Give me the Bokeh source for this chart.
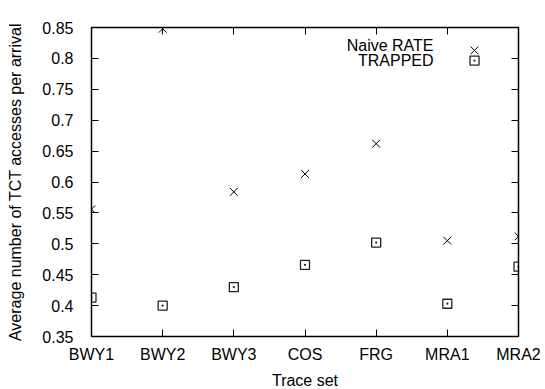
from bokeh.plotting import figure
from bokeh.models import LinearAxis, FixedTicker, Range1d, Label
from bokeh.embed import file_html
from bokeh.resources import INLINE

# ---- data ----
categories = ["BWY1", "BWY2", "BWY3", "COS", "FRG", "MRA1", "MRA2"]
naive_rate = [0.556, 0.848, 0.584, 0.613, 0.662, 0.505, 0.512]
trapped = [0.413, 0.400, 0.430, 0.466, 0.502, 0.403, 0.463]
y_ticks = [0.35, 0.4, 0.45, 0.5, 0.55, 0.6, 0.65, 0.7, 0.75, 0.8, 0.85]
y_tick_labels = ["0.35", "0.4", "0.45", "0.5", "0.55", "0.6", "0.65", "0.7", "0.75", "0.8", "0.85"]
series_names = ["Naive RATE", "TRAPPED"]

x_pos = list(range(len(categories)))
FONT = "Liberation Sans"
X_SIZE = 11
SQ_SIZE = 9

p = figure(frame_width=427, frame_height=309,
           x_range=Range1d(0, len(categories) - 1),
           y_range=Range1d(y_ticks[0], y_ticks[-1]),
           x_axis_type=None, y_axis_type=None,
           output_backend="svg", toolbar_location=None,
           min_border_left=91, min_border_right=27,
           min_border_top=27, min_border_bottom=53)
p.xgrid.visible = False
p.ygrid.visible = False
p.outline_line_color = "black"
p.outline_line_width = 1.5
p.background_fill_color = "white"
p.border_fill_color = "white"

xt = FixedTicker(ticks=x_pos)
yt = FixedTicker(ticks=y_ticks)

bottom_ax = LinearAxis(ticker=xt, axis_label="Trace set",
                       major_label_overrides={i: c for i, c in enumerate(categories)},
                       major_label_standoff=9, axis_label_standoff=6)
left_ax = LinearAxis(ticker=yt, axis_label="Average number of TCT accesses per arrival",
                     major_label_overrides={v: s for v, s in zip(y_ticks, y_tick_labels)},
                     major_label_standoff=18, axis_label_standoff=15)
top_ax = LinearAxis(ticker=xt, major_label_text_color=None,
                    major_label_text_font_size="1px", major_label_standoff=0)
right_ax = LinearAxis(ticker=yt, major_label_text_color=None,
                      major_label_text_font_size="1px", major_label_standoff=0)

for ax in [bottom_ax, left_ax, top_ax, right_ax]:
    ax.axis_line_color = None
    ax.major_tick_in = 7
    ax.major_tick_out = 0
    ax.minor_tick_line_color = None
    ax.major_tick_line_color = "black"
    ax.major_tick_line_width = 1
    ax.axis_label_text_font = FONT
    ax.axis_label_text_font_size = "16px"
    ax.axis_label_text_font_style = "normal"
    ax.axis_label_text_color = "black"

for ax in [bottom_ax, left_ax]:
    ax.major_label_text_font = FONT
    ax.major_label_text_font_size = "16px"
    ax.major_label_text_color = "black"

p.add_layout(bottom_ax, "below")
p.add_layout(left_ax, "left")
p.add_layout(top_ax, "above")
p.add_layout(right_ax, "right")

p.scatter(x_pos, naive_rate, marker="x", size=X_SIZE, line_color="black", line_width=1)
p.scatter(x_pos, trapped, marker="square_dot", size=SQ_SIZE, line_color="#222222",
          fill_color=None, line_width=1.3)

# ---- legend (gnuplot style: text right-aligned, key to the right) ----
x0, x1 = p.x_range.start, p.x_range.end
y0, y1 = p.y_range.start, p.y_range.end
legend_text_x = x0 + 0.801 * (x1 - x0)
legend_key_x = x0 + 0.897 * (x1 - x0)
legend_text_y = [y0 + 0.942 * (y1 - y0), y0 + 0.893 * (y1 - y0)]
legend_key_y = [y0 + 0.926 * (y1 - y0), y0 + 0.893 * (y1 - y0)]

for name, ty in zip(series_names, legend_text_y):
    p.add_layout(Label(x=legend_text_x, y=ty, text=name, text_align="right",
                       text_baseline="middle", text_font=FONT,
                       text_font_size="16px", text_color="black"))
p.scatter([legend_key_x], [legend_key_y[0]], marker="x", size=X_SIZE,
          line_color="black", line_width=1)
p.scatter([legend_key_x], [legend_key_y[1]], marker="square_dot", size=SQ_SIZE,
          line_color="#222222", fill_color=None, line_width=1.3)

open("out.html", "w").write(file_html(p, INLINE))
